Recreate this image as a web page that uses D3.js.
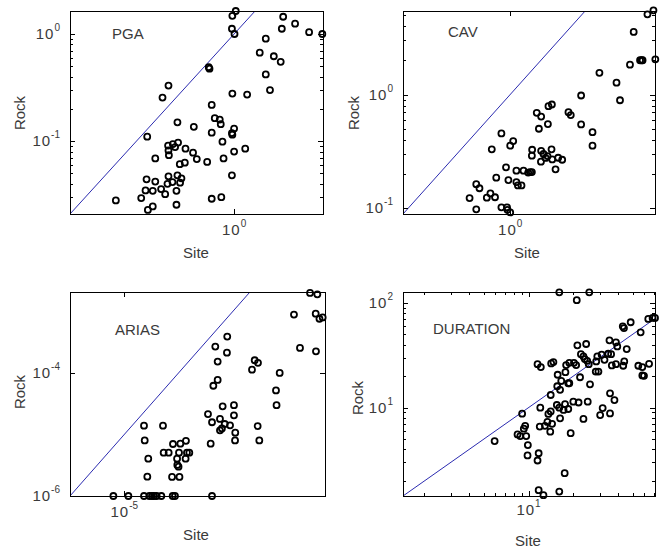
<!DOCTYPE html>
<html><head><meta charset="utf-8">
<script src="https://cdn.jsdelivr.net/npm/d3@7/dist/d3.min.js"></script>
<style>
html,body{margin:0;padding:0;background:#fff;}
svg{display:block;font-family:"Liberation Sans",Arial,sans-serif;}
</style></head>
<body><svg id="c" width="661" height="552"></svg>
<script>
// ---- data: [site, rock] ----
const pgaPoints = [[1.04,1.64],[0.96,1.48],[0.95,1.12],[1.01,1.0],[3.18,1.45],[4.21,1.25],[3.08,1.12],[5.86,1.04],[8.0,1.0],[2.11,0.905],[1.83,0.67],[2.55,0.62],[3.0,0.55],[2.11,0.42],[2.33,0.30],[0.55,0.49],[0.56,0.475],[0.96,0.278],[1.36,0.272],[0.213,0.33],[0.185,0.255],[0.129,0.11],[0.59,0.218],[0.634,0.164],[0.713,0.159],[0.73,0.144],[0.263,0.15],[0.387,0.136],[0.59,0.12],[0.95,0.119],[0.96,0.115],[1.0,0.131],[0.76,0.099],[1.30,0.085],[1.0,0.080],[0.78,0.069],[0.95,0.048],[0.59,0.029],[0.74,0.030],[0.156,0.069],[0.211,0.091],[0.236,0.094],[0.249,0.088],[0.213,0.082],[0.215,0.074],[0.267,0.097],[0.318,0.085],[0.38,0.078],[0.415,0.068],[0.53,0.064],[0.278,0.061],[0.313,0.063],[0.127,0.044],[0.156,0.042],[0.213,0.047],[0.263,0.048],[0.289,0.045],[0.208,0.040],[0.234,0.0415],[0.28,0.041],[0.124,0.0347],[0.147,0.0344],[0.179,0.0357],[0.197,0.032],[0.257,0.0344],[0.0616,0.028],[0.112,0.0294],[0.131,0.0228],[0.147,0.0246],[0.257,0.0255]];
const cavPoints = [[25.3,5.5],[22.1,5.07],[16.2,3.55],[26.4,2.04],[18.7,2.0],[19.4,2.0],[19.8,2.0],[14.9,1.83],[7.48,1.55],[11.0,1.27],[11.9,0.89],[4.95,0.98],[3.72,0.70],[3.92,0.66],[2.37,0.79],[2.56,0.817],[1.82,0.69],[2.01,0.64],[2.34,0.55],[1.91,0.50],[4.95,0.546],[6.4,0.467],[6.4,0.355],[0.82,0.455],[1.07,0.39],[1.0,0.355],[0.66,0.33],[1.64,0.327],[1.63,0.29],[2.01,0.32],[2.12,0.30],[2.54,0.33],[2.32,0.288],[2.22,0.277],[2.0,0.257],[2.58,0.269],[2.95,0.278],[3.23,0.267],[2.78,0.22],[0.91,0.229],[1.15,0.214],[1.35,0.214],[1.5,0.206],[1.57,0.208],[1.63,0.208],[0.73,0.186],[0.96,0.177],[1.15,0.17],[1.29,0.159],[1.19,0.159],[0.465,0.163],[0.5,0.15],[0.64,0.135],[0.71,0.125],[0.59,0.124],[0.40,0.123],[0.465,0.098],[0.82,0.102],[0.93,0.102],[0.94,0.097],[1.0,0.092]];
const ariasPoints = [[0.0265,0.0020],[0.0361,0.0019],[0.0134,8.9e-4],[0.0337,9.2e-4],[0.0395,7.6e-4],[0.0453,8.0e-4],[0.0173,2.55e-4],[0.0341,2.25e-4],[7.9e-4,3.9e-4],[4.76e-4,2.68e-4],[7.8e-4,2.14e-4],[5.26e-4,1.53e-4],[2.53e-3,1.61e-4],[2.91e-3,1.46e-4],[2.26e-3,1.13e-4],[7.31e-3,1.0e-4],[5.26e-4,7.7e-5],[4.38e-4,6.2e-5],[6.25e-3,5.2e-5],[6.4e-3,3.0e-5],[6.5e-4,2.87e-5],[1.05e-3,3.0e-5],[3.49e-4,2.15e-5],[4.14e-4,1.58e-5],[5.8e-4,1.79e-5],[7.1e-4,1.48e-5],[1.05e-3,2.05e-5],[8.9e-4,1.41e-5],[5.8e-4,1.17e-5],[6.3e-4,1.25e-5],[1.11e-3,1.07e-5],[1.1e-3,8.0e-6],[2.87e-3,1.37e-5],[3.08e-3,8.0e-6],[3.91e-4,7.1e-6],[2.31e-5,1.39e-5],[5.17e-5,1.39e-5],[2.38e-5,8.0e-6],[2.77e-5,4.05e-6],[2.66e-5,2.06e-6],[5.32e-5,5.07e-6],[6.58e-5,5.07e-6],[7.9e-5,7.0e-6],[1.08e-4,7.1e-6],[1.37e-4,7.9e-6],[1.02e-4,5.07e-6],[1.43e-4,5.07e-6],[1.58e-4,5.07e-6],[9.4e-5,4.05e-6],[1.35e-4,4.05e-6],[1.0e-4,3.0e-6],[9.5e-5,3.2e-6],[7.6e-5,2.04e-6],[1.04e-4,2.04e-6],[6.3e-6,1e-6],[1.19e-5,1e-6],[2.31e-5,1e-6],[2.9e-5,1e-6],[3.24e-5,1e-6],[3.53e-5,1e-6],[3.95e-5,1e-6],[4.82e-5,1e-6],[7.8e-5,1e-6],[8.6e-5,1e-6],[4.14e-4,1e-6]];
const durationPoints = [[16.1,126],[25.6,126],[21.1,106],[70.8,71.8],[68.2,71.8],[63.8,70.3],[48.6,65.3],[43,59.7],[43.8,57.5],[56.7,52.3],[35,43.9],[38.7,42],[39.5,38.4],[45.7,36.2],[21.3,39.3],[24.4,40.5],[22.5,32.4],[23.4,30.8],[23.9,29.1],[24.8,28],[25.4,26],[29.0,30.8],[31.0,32],[32.4,28.6],[34.3,32.7],[35.9,32.4],[28.5,27.6],[38.7,26],[36.3,25.3],[44,27.6],[43.3,25.1],[54.7,25.1],[58.2,24.4],[64.6,26.2],[58.2,20.3],[59.7,20.1],[22.2,19.5],[25.9,16.7],[28.3,22.1],[29.5,22.1],[18.8,26.8],[17.9,25.5],[20.2,26.8],[20.9,25.5],[14.7,27.2],[14.2,26.4],[11.5,26],[12.1,24.4],[15.7,20.6],[17.7,21.8],[16.6,18],[18.5,17.1],[18.8,17.1],[15.6,16],[16.3,14.8],[12,10],[14.1,13.2],[15.5,10.6],[16.1,10],[17.2,9.5],[18.5,9.7],[17.6,10.8],[20.0,11.4],[21.7,11.2],[25.0,11.4],[23.4,7.8],[30.3,8.5],[31.5,9.9],[35.3,8.8],[35.3,13.7],[37.8,11.8],[16.3,7.9],[13.6,8.7],[14.1,9.2],[13.4,7.3],[14.4,7.0],[11.9,6.6],[12.9,6.7],[14,5.9],[19.2,5.7],[9.06,8.75],[9.5,6.7],[9.3,6.3],[8.44,5.55],[8.8,5.35],[9.65,5.35],[9.9,4.39],[9.85,3.5],[11.7,3.67],[11.5,3.13],[5.92,4.8],[17.5,2.37],[11.7,1.63],[12.6,1.46],[16.1,1.58]];

// ---- axis domains and tick labels (exponents) ----
const pgaDomainX = [0.0209, 8.13], pgaDomainY = [0.0209, 1.64];
const cavDomainX = [0.0891, 26.2], cavDomainY = [0.0891, 5.42];
const ariasDomainX = [1e-6, 0.05], ariasDomainY = [1e-6, 2.07e-3];
const durationDomainX = [1.434, 70.8], durationDomainY = [1.434, 127];
const pgaTicksX = [0], pgaTicksY = [0, -1];
const cavTicksX = [0], cavTicksY = [0, -1];
const ariasTicksX = [-5], ariasTicksY = [-4, -6];
const durationTicksX = [1], durationTicksY = [2, 1];
const titles = ["PGA", "CAV", "ARIAS", "DURATION"];
const xLabel = "Site", yLabel = "Rock";

const panels = [
  {title:titles[0], pts:pgaPoints, dx:pgaDomainX, dy:pgaDomainY, tx:pgaTicksX, ty:pgaTicksY, minorX:false, minorY:true,
   box:[70,323,11,214], tpos:[112,39], spos:[196,258], rpos:[20,113], xlOff:21},
  {title:titles[1], pts:cavPoints, dx:cavDomainX, dy:cavDomainY, tx:cavTicksX, ty:cavTicksY, minorX:false, minorY:true,
   box:[403,655,11,214], tpos:[448,37], spos:[527,258], rpos:[354,113], xlOff:21},
  {title:titles[2], pts:ariasPoints, dx:ariasDomainX, dy:ariasDomainY, tx:ariasTicksX, ty:ariasTicksY, minorX:false, minorY:false,
   box:[70,325,292,496], tpos:[115,335], spos:[196,540], rpos:[20,392], xlOff:21},
  {title:titles[3], pts:durationPoints, dx:durationDomainX, dy:durationDomainY, tx:durationTicksX, ty:durationTicksY, minorX:true, minorY:true,
   box:[403,655,292,496], tpos:[433,334], spos:[528,546], rpos:[358,398], xlOff:19}
];

const svg = d3.select("#c");
const txtCol = "#3a3a3a";
const FS = 15;

function minorTicks(domain){
  const out=[];
  const lo=Math.floor(Math.log10(domain[0])), hi=Math.ceil(Math.log10(domain[1]));
  for(let e=lo;e<=hi;e++) for(let m=2;m<=9;m++){
    const v=m*Math.pow(10,e);
    if(v>domain[0]&&v<domain[1]) out.push(v);
  }
  return out;
}
function expLabel(sel, e){
  sel.append("tspan").attr("letter-spacing",1).text("10");
  sel.append("tspan").attr("dy",-8).attr("font-size",10).text(String(e));
}

panels.forEach((p,i)=>{
  const [x0,x1,y0,y1]=p.box;
  const x=d3.scaleLog().domain(p.dx).range([x0,x1]);
  const y=d3.scaleLog().domain(p.dy).range([y1,y0]);
  const g=svg.append("g");
  const cid="clip"+i;
  svg.append("clipPath").attr("id",cid).append("rect").attr("x",x0).attr("y",y0).attr("width",x1-x0).attr("height",y1-y0);

  // 1:1 line
  const lo=Math.max(p.dx[0],p.dy[0]), hi=Math.min(p.dx[1],p.dy[1]);
  g.append("line").attr("clip-path",`url(#${cid})`)
    .attr("x1",x(lo)).attr("y1",y(lo)).attr("x2",x(hi)).attr("y2",y(hi))
    .attr("stroke","#2b2bb0").attr("stroke-width",1);

  // frame
  g.append("rect").attr("x",x0+0.5).attr("y",y0+0.5).attr("width",x1-x0).attr("height",y1-y0)
    .attr("fill","none").attr("stroke","#000").attr("stroke-width",1);

  // ticks (inward, both sides)
  const tk=g.append("g").attr("stroke","#000").attr("stroke-width",1);
  const majY=p.ty.map(e=>Math.pow(10,e)), majX=p.tx.map(e=>Math.pow(10,e));
  majY.forEach(v=>{const yy=Math.round(y(v))+0.5;
    tk.append("line").attr("x1",x0).attr("x2",x0+5).attr("y1",yy).attr("y2",yy);
    tk.append("line").attr("x1",x1).attr("x2",x1-5).attr("y1",yy).attr("y2",yy);});
  majX.forEach(v=>{const xx=Math.round(x(v))+0.5;
    tk.append("line").attr("y1",y1).attr("y2",y1-5).attr("x1",xx).attr("x2",xx);
    tk.append("line").attr("y1",y0).attr("y2",y0+5).attr("x1",xx).attr("x2",xx);});
  if(p.minorY) minorTicks(p.dy).forEach(v=>{const yy=Math.round(y(v))+0.5;
    tk.append("line").attr("x1",x0).attr("x2",x0+3).attr("y1",yy).attr("y2",yy);
    tk.append("line").attr("x1",x1).attr("x2",x1-3).attr("y1",yy).attr("y2",yy);});
  if(p.minorX) minorTicks(p.dx).forEach(v=>{const xx=Math.round(x(v))+0.5;
    tk.append("line").attr("y1",y1).attr("y2",y1-3).attr("x1",xx).attr("x2",xx);
    tk.append("line").attr("y1",y0).attr("y2",y0+3).attr("x1",xx).attr("x2",xx);});

  // tick labels
  p.ty.forEach(e=>{
    const t=g.append("text").attr("x",x0-10).attr("y",y(Math.pow(10,e))+5)
      .attr("text-anchor","end").attr("font-size",FS).attr("fill",txtCol);
    expLabel(t,e);
  });
  p.tx.forEach(e=>{
    const t=g.append("text").attr("x",x(Math.pow(10,e))).attr("y",y1+p.xlOff)
      .attr("text-anchor","middle").attr("font-size",FS).attr("fill",txtCol);
    expLabel(t,e);
  });

  // points
  g.append("g").selectAll("circle").data(p.pts).join("circle")
    .attr("cx",d=>x(d[0])).attr("cy",d=>y(d[1])).attr("r",3)
    .attr("fill","none").attr("stroke","#000").attr("stroke-width",1.8);

  // labels
  g.append("text").attr("x",p.tpos[0]).attr("y",p.tpos[1]).attr("font-size",FS).attr("fill",txtCol).text(p.title);
  g.append("text").attr("x",p.spos[0]).attr("y",p.spos[1]).attr("text-anchor","middle").attr("font-size",FS).attr("fill",txtCol).text(xLabel);
  g.append("text").attr("transform",`translate(${p.rpos[0]},${p.rpos[1]}) rotate(-90)`)
    .attr("text-anchor","middle").attr("dy","0.35em").attr("font-size",FS).attr("fill",txtCol).text(yLabel);
});
</script></body></html>
